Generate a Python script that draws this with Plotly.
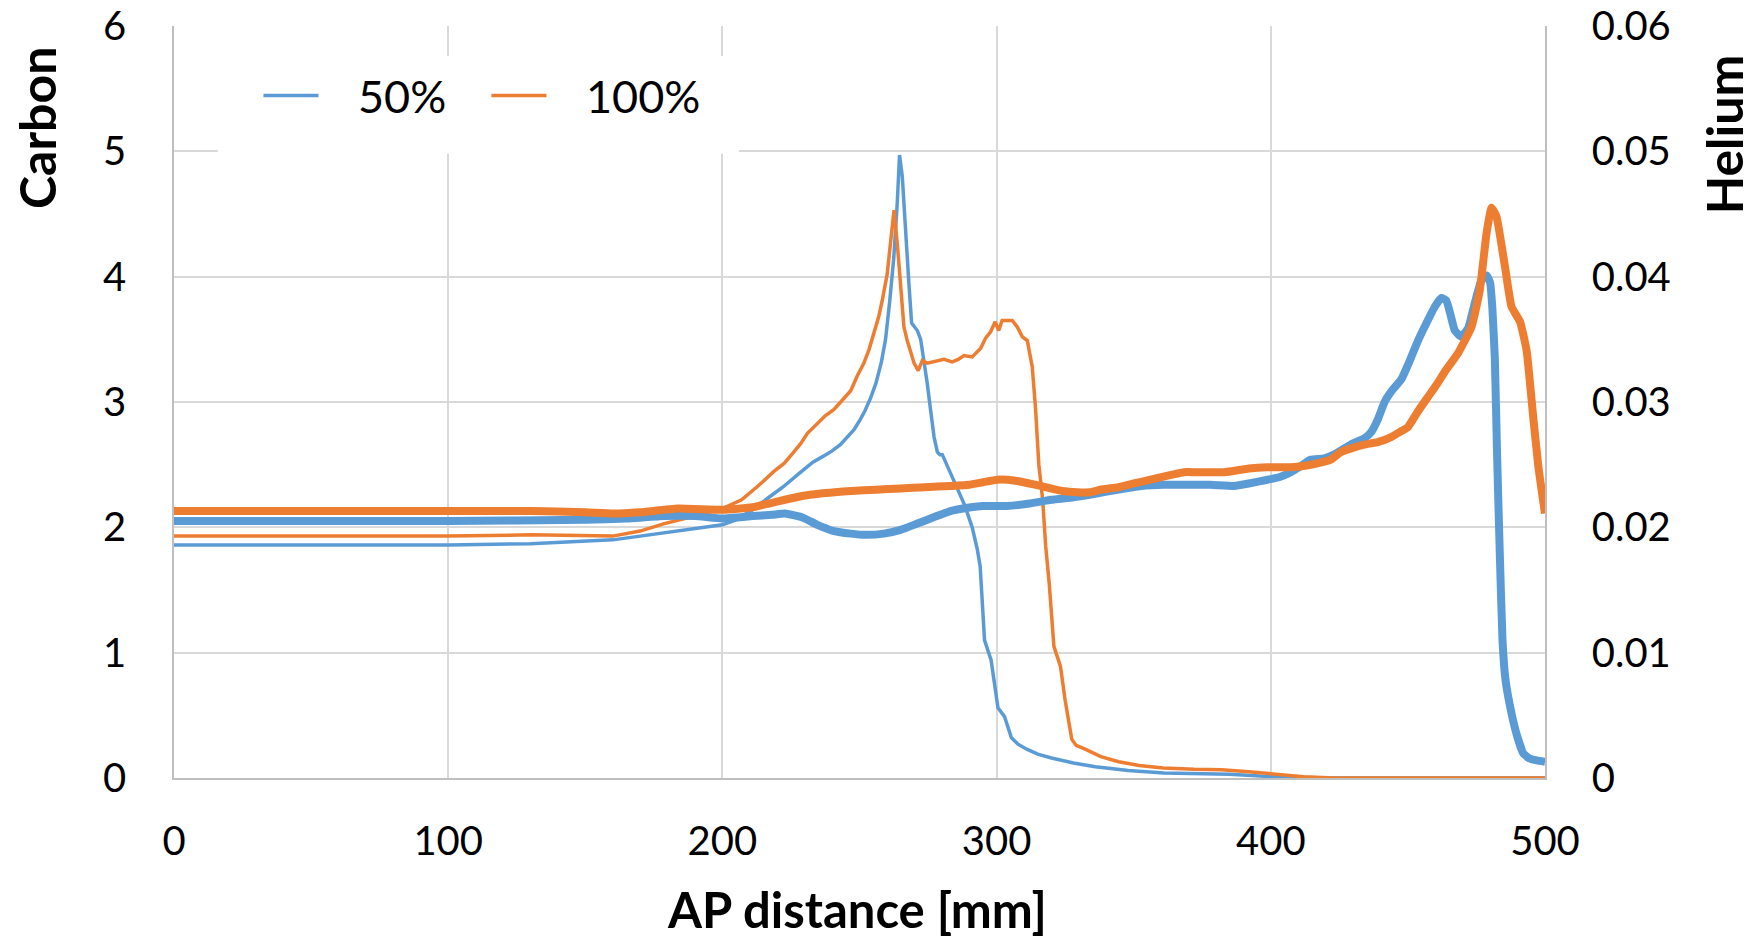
import plotly.graph_objects as go

# ---------------- data ----------------
carbon_50_x = [0, 50, 100, 130, 150, 160, 170, 180, 190, 200, 205, 211, 217, 222, 228, 233, 237, 240, 243, 246,
               248, 250, 252, 254, 256, 258, 259.5, 261, 262.5, 263.8, 264.6, 265.6, 266.8, 268, 269, 270, 271.1,
               272.3, 273.5, 274.7, 275.9, 277.2, 278.4, 279.3, 280.2, 281.4, 283.2, 285.7, 288.3, 291.1, 293, 294,
               295.6, 298, 300.5, 302.9, 304, 305.4, 307.8, 311, 315, 320, 328, 336, 348, 361, 385, 401, 420, 500]
carbon_50_y = [1.86, 1.86, 1.86, 1.87, 1.89, 1.90, 1.93, 1.96, 1.99, 2.02, 2.06, 2.14, 2.24, 2.32, 2.43, 2.52, 2.57,
               2.61, 2.66, 2.73, 2.78, 2.85, 2.93, 3.03, 3.15, 3.32, 3.5, 3.8, 4.15, 4.6, 4.97, 4.8, 4.34, 3.95, 3.63,
               3.6, 3.57, 3.5, 3.33, 3.15, 2.94, 2.72, 2.6, 2.58, 2.58, 2.52, 2.43, 2.31, 2.18, 2.0, 1.82, 1.69, 1.10,
               0.94, 0.56, 0.49, 0.42, 0.32, 0.27, 0.23, 0.19, 0.16, 0.12, 0.09, 0.06, 0.04, 0.03, 0.01, 0.0, 0.0]

carbon_100_x = [0, 50, 100, 130, 150, 160, 170, 178.8, 190, 200, 207, 213, 219, 222.5, 226, 228.6, 231, 234.6, 237.5,
                240.7, 243.5, 246.8, 249, 251.6, 253.5, 255.3, 257, 258.3, 260.1, 261.4, 262.6, 263.8, 265, 266.2,
                267.4, 268.7, 269.9, 271.4, 272.9, 274.7, 277.2, 280.8, 283.8, 286, 288.1, 291.1, 294.2, 296, 297.8,
                299.5, 300.8, 302, 305.7, 307.5, 309.4, 311.2, 313, 314.2, 315.4, 316.8, 317.9, 319.2, 320.9, 323.3,
                325, 327.4, 329, 332.3, 338, 344.5, 352, 360.8, 372, 382, 392, 401.6, 412, 422.8, 500]
carbon_100_y = [1.93, 1.93, 1.93, 1.94, 1.93, 1.93, 1.97, 2.03, 2.09, 2.15, 2.22, 2.33, 2.45, 2.51, 2.6, 2.67, 2.75,
                2.83, 2.89, 2.94, 3.01, 3.09, 3.2, 3.31, 3.42, 3.55, 3.68, 3.81, 4.02, 4.29, 4.53, 4.26, 3.95, 3.6,
                3.49, 3.39, 3.31, 3.25, 3.33, 3.31, 3.32, 3.34, 3.32, 3.34, 3.37, 3.36, 3.43, 3.51, 3.56, 3.64, 3.57,
                3.65, 3.65, 3.6, 3.52, 3.49, 3.28, 2.95, 2.5, 2.22, 1.85, 1.55, 1.05, 0.89, 0.62, 0.31, 0.26, 0.23,
                0.17, 0.13, 0.10, 0.08, 0.07, 0.066, 0.05, 0.03, 0.01, 0.0, 0.0]

helium_50_x = [0, 50, 100, 150, 165, 178.8, 190, 200, 211, 218, 222.8, 229, 234.6, 240.7, 246.8, 252, 258.9, 265,
               271.1, 277, 283.2, 290.7, 295, 303.8, 312, 320, 328, 336.4, 344, 352.7, 361, 369, 378, 386.6, 392,
               398.8, 403, 407.3, 411, 414.6, 419.5, 423, 426.8, 430, 434.1, 436.6, 439, 441.5, 444.5, 447.6, 450.5,
               453.7, 457, 459.8, 462.2, 464, 465.5, 467.1, 469.5, 472, 474.4, 476.8, 478.7, 480, 480.8, 481.7,
               482.5, 483.5, 484.5, 485.5, 487, 489.5, 492, 494, 497, 500]
helium_50_y = [0.0205, 0.0205, 0.0205, 0.0206, 0.0207, 0.0209, 0.0209, 0.0207, 0.0209, 0.0210, 0.0211, 0.0208,
               0.0202, 0.0197, 0.0195, 0.0194, 0.0195, 0.0198, 0.0203, 0.0208, 0.0213, 0.0216, 0.0217, 0.0217,
               0.0219, 0.0222, 0.0224, 0.0227, 0.0230, 0.0233, 0.0234, 0.0234, 0.0234, 0.0233, 0.0235, 0.0238,
               0.0240, 0.0244, 0.0249, 0.0254, 0.0255, 0.0258, 0.0263, 0.0267, 0.0271, 0.0276, 0.0286, 0.0300,
               0.0310, 0.0318, 0.0332, 0.0349, 0.0364, 0.0376, 0.0383, 0.0381, 0.0370, 0.0357, 0.0352, 0.0359,
               0.0379, 0.0397, 0.0401, 0.0395, 0.0375, 0.0335, 0.0260, 0.0180, 0.0110, 0.0080, 0.0060, 0.0036,
               0.0020, 0.0016, 0.0014, 0.0013]

helium_100_x = [0, 50, 100, 130, 150, 160, 170, 183.7, 200, 211, 217, 222.8, 229, 235.8, 241, 247, 256, 265, 274,
                283.2, 290, 295, 300.2, 304, 307.5, 311.9, 316, 319.7, 324, 329.4, 334, 337.9, 344.5, 350, 356.1, 364,
                368.3, 373, 383, 392, 398.8, 407.3, 412, 417, 421.9, 425.5, 429.3, 434, 439, 443.9, 447, 450, 453.5,
                457.3, 460.5, 463.4, 468.3, 473.2, 476.2, 478.7, 480.5, 482.3, 485.4, 487.8, 490.9, 493.3, 495.7,
                497.6, 500]
helium_100_y = [0.0213, 0.0213, 0.0213, 0.0213, 0.0212, 0.0211, 0.0212, 0.0215, 0.0214, 0.0216, 0.0219, 0.0222,
                0.0225, 0.0227, 0.0228, 0.0229, 0.0230, 0.0231, 0.0232, 0.0233, 0.0234, 0.0236, 0.0238, 0.0238,
                0.0237, 0.0235, 0.0233, 0.0231, 0.0229, 0.0228, 0.0228, 0.0230, 0.0232, 0.0235, 0.0238, 0.0242,
                0.0244, 0.0244, 0.0244, 0.0247, 0.0248, 0.0248, 0.0249, 0.0251, 0.0254, 0.0260, 0.0263, 0.0266,
                0.0268, 0.0272, 0.0276, 0.0280, 0.0292, 0.0304, 0.0314, 0.0324, 0.0339, 0.0360, 0.0389, 0.0435,
                0.0455, 0.0448, 0.0408, 0.0376, 0.0364, 0.0341, 0.0288, 0.0248, 0.0211]

series_names = ["50%", "100%"]
x_ticks = [0, 100, 200, 300, 400, 500]
left_ticks = [0, 1, 2, 3, 4, 5, 6]
right_ticks = [0, 0.01, 0.02, 0.03, 0.04, 0.05, 0.06]

BLUE = "#5B9BD5"
ORANGE = "#ED7D31"
FONT = "Lato"
GRID = "#D9D9D9"
AXIS = "#BFBFBF"
PAD = "\u00a0" * 3  # gap between legend line and legend text

fig = go.Figure()
fig.add_trace(go.Scatter(x=carbon_50_x, y=carbon_50_y, mode="lines", name=PAD + series_names[0],
                         line=dict(color=BLUE, width=3.5), yaxis="y", legendgroup="a", showlegend=True))
fig.add_trace(go.Scatter(x=carbon_100_x, y=carbon_100_y, mode="lines", name=PAD + series_names[1],
                         line=dict(color=ORANGE, width=3.5), yaxis="y", legendgroup="b", showlegend=True))
fig.add_trace(go.Scatter(x=helium_50_x, y=helium_50_y, mode="lines", name=series_names[0],
                         line=dict(color=BLUE, width=8, shape="spline", smoothing=0.4), yaxis="y2",
                         legendgroup="a", showlegend=False))
fig.add_trace(go.Scatter(x=helium_100_x, y=helium_100_y, mode="lines", name=series_names[1],
                         line=dict(color=ORANGE, width=8, shape="spline", smoothing=0.4), yaxis="y2",
                         legendgroup="b", showlegend=False))

fig.update_layout(
    width=1755, height=938,
    margin=dict(l=174, r=210, t=26, b=160, autoexpand=False),
    paper_bgcolor="white", plot_bgcolor="white",
    font=dict(family=FONT, size=40, color="black"),
    showlegend=True,
    legend=dict(orientation="h", x=0.0616, y=0.955, xanchor="left", yanchor="top",
                bgcolor="rgba(0,0,0,0)", font=dict(size=45, family=FONT, color="black"),
                itemwidth=55, entrywidth=158, entrywidthmode="pixels", tracegroupgap=0),
    xaxis=dict(range=[0, 500], tickvals=x_ticks, showgrid=True, gridcolor=GRID, gridwidth=1.5,
               showline=True, linecolor=AXIS, linewidth=1.5, zeroline=False, automargin=False,
               ticklabeloverflow="allow",
               ticks="", ticklabelstandoff=27, tickfont=dict(size=40, family=FONT)),
    yaxis=dict(range=[0, 6], tickvals=left_ticks, showgrid=True, gridcolor=GRID, gridwidth=1.5,
               showline=True, linecolor=AXIS, linewidth=1.5, zeroline=False, automargin=False,
               ticklabeloverflow="allow",
               ticks="", ticklabelstandoff=38, tickfont=dict(size=40, family=FONT)),
    yaxis2=dict(range=[0, 0.06], tickvals=right_ticks, overlaying="y", side="right", showgrid=False,
                showline=True, linecolor=AXIS, linewidth=1.5, zeroline=False, automargin=False,
                ticklabeloverflow="allow",
                ticks="", ticklabelstandoff=37, tickfont=dict(size=40, family=FONT)),
    shapes=[dict(type="rect", xref="paper", yref="paper", x0=0.032, x1=0.412, y0=0.83, y1=0.96,
                 fillcolor="white", line=dict(width=0), layer="above")],
    annotations=[
        dict(text="<b>AP distance [mm]</b>", xref="paper", yref="paper", x=0.498, y=-0.174,
             xanchor="center", yanchor="middle", showarrow=False, font=dict(size=49, family=FONT)),
        dict(text="<b>Carbon</b>", xref="paper", yref="paper", x=-0.1003, y=0.865, textangle=-90,
             xanchor="center", yanchor="middle", showarrow=False, font=dict(size=50, family=FONT)),
        dict(text="<b>Helium</b>", xref="paper", yref="paper", x=1.1306, y=0.856, textangle=-90,
             xanchor="center", yanchor="middle", showarrow=False, font=dict(size=50, family=FONT)),
    ],
)

fig.write_html("out.html", config={"displayModeBar": False},
               post_script="document.body.style.margin='0';document.body.style.overflow='hidden';")
